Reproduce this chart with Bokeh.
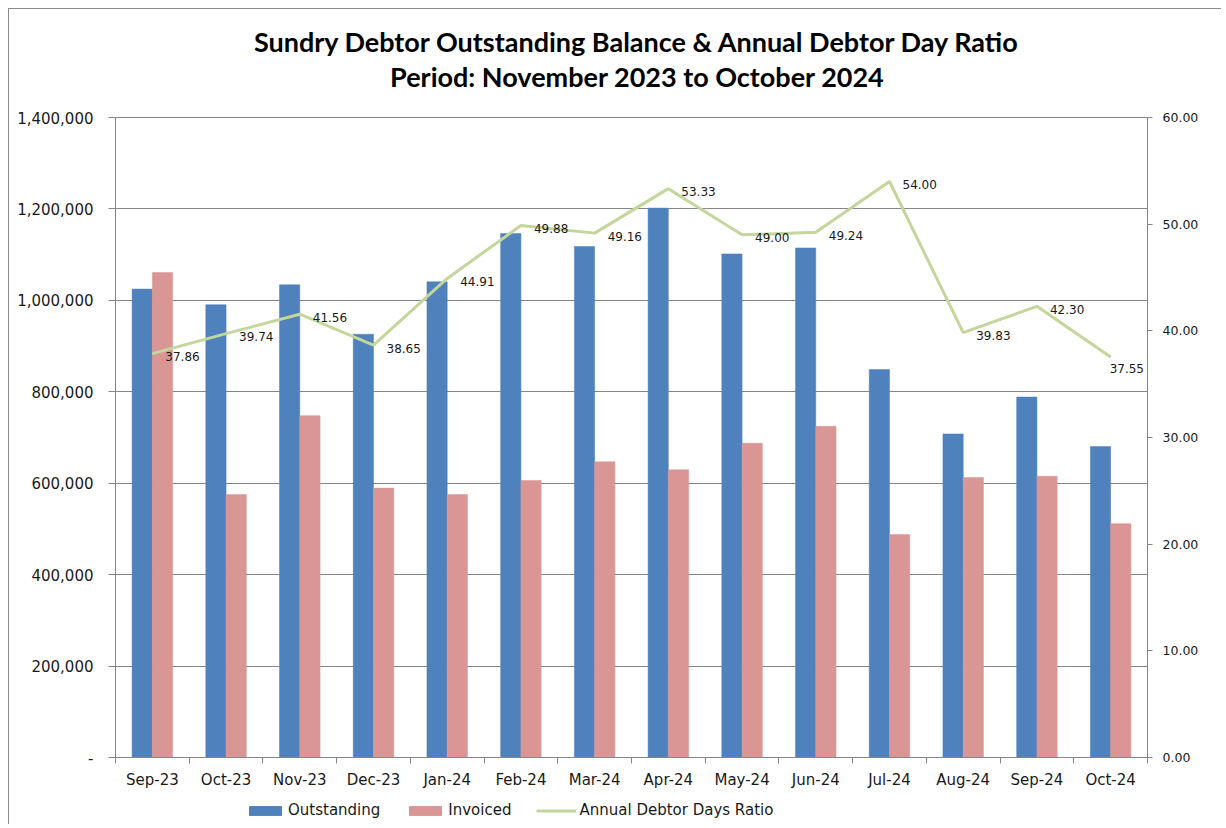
import numpy as np
from bokeh.plotting import figure
from bokeh.layouts import column
from bokeh.models import (ColumnDataSource, Range1d, LinearAxis, FixedTicker, CustomJSTickFormatter,
                          LabelSet, Label, Legend, LegendItem)
from bokeh.embed import file_html
from bokeh.resources import INLINE
from bokeh.core.properties import value

months = ["Sep-23", "Oct-23", "Nov-23", "Dec-23", "Jan-24", "Feb-24", "Mar-24",
          "Apr-24", "May-24", "Jun-24", "Jul-24", "Aug-24", "Sep-24", "Oct-24"]
outstanding = [1024600, 990400, 1034000, 925800, 1040500, 1146000, 1117700,
               1201800, 1101600, 1114600, 848700, 707800, 788500, 680200]
invoiced = [1061000, 575500, 747800, 589300, 575500, 606000, 646800,
            629400, 687400, 724500, 487600, 612600, 615500, 511600]
ratio = [37.86, 39.74, 41.56, 38.65, 44.91, 49.88, 49.16,
         53.33, 49.00, 49.24, 54.00, 39.83, 42.30, 37.55]

title_1 = "Sundry Debtor Outstanding Balance & Annual Debtor Day Ratio"
title_2 = "Period: November 2023 to October 2024"
left_ticks = [0, 200000, 400000, 600000, 800000, 1000000, 1200000, 1400000]
right_ticks = [0, 10, 20, 30, 40, 50, 60]

n = len(months)
xc = np.arange(n) + 0.5
bw = 0.275
# label offsets (last one kept inside the plot area)
lx = [13] * (n - 1) + [-1]
ly = [-3] * (n - 1) + [-12]
src = ColumnDataSource(dict(
    xo=xc - bw / 2, xi=xc + bw / 2, xc=xc,
    outstanding=outstanding, invoiced=invoiced, ratio=ratio,
    lab=[f"{r:.2f}" for r in ratio], lx=lx, ly=ly,
))

FONT = "DejaVu Sans"
GRAY = "#868686"
TXT = "#1a1a1a"
BLUE = "#4F81BD"
PINK = "#D99694"
GREEN = "#C3D69B"

W = 1212
H_TOP, H_MAIN, H_LEG = 100, 685, 30
ML, MR = 106, 74

# ---------- title strip ----------
pt = figure(width=W, height=H_TOP, output_backend="svg", toolbar_location=None,
            x_axis_type=None, y_axis_type=None,
            min_border_left=ML, min_border_right=MR, min_border_top=0, min_border_bottom=0,
            x_range=Range1d(0, 1), y_range=Range1d(0, 1))
pt.outline_line_color = None
pt.border_fill_color = "white"
for txt, yy in [(title_1, 68), (title_2, 33)]:
    pt.add_layout(Label(x=522, y=yy, x_units="screen", y_units="screen", text=txt,
                        text_font="Lato", text_font_style="bold", text_font_size="27px",
                        text_color="black", text_align="center", text_baseline="middle"))

# ---------- main chart ----------
p = figure(width=W, height=H_MAIN, output_backend="svg", toolbar_location=None,
           x_range=Range1d(0, n), y_range=Range1d(0, 1400000),
           min_border_left=ML, min_border_right=MR, min_border_top=8, min_border_bottom=37)
p.extra_y_ranges = {"right": Range1d(0, 60)}
p.outline_line_color = GRAY
p.outline_line_width = 1
p.background_fill_color = "white"
p.border_fill_color = "white"

p.vbar(x="xo", top="outstanding", width=bw, bottom=0, source=src,
       fill_color=BLUE, line_color=BLUE, line_width=0.5)
p.vbar(x="xi", top="invoiced", width=bw, bottom=0, source=src,
       fill_color=PINK, line_color=PINK, line_width=0.5)
p.line(x="xc", y="ratio", source=src, y_range_name="right",
       line_color=GREEN, line_width=3)

labels = LabelSet(x="xc", y="ratio", text="lab", source=src, y_range_name="right",
                  x_offset="lx", y_offset="ly", text_font=value(FONT), text_font_size="12px",
                  text_color=TXT, text_align="left", text_baseline="middle")
p.add_layout(labels)

xa = p.xaxis[0]
xa.ticker = FixedTicker(ticks=list(xc), minor_ticks=list(range(n + 1)))
xa.formatter = CustomJSTickFormatter(args=dict(cats=months),
                                     code="return cats[Math.floor(tick)];")
xa.major_tick_out = 0
xa.major_tick_in = 0
xa.minor_tick_out = 6
xa.minor_tick_in = 0
xa.minor_tick_line_color = GRAY
xa.axis_line_color = GRAY
xa.major_label_text_font = FONT
xa.major_label_text_font_size = "15px"
xa.major_label_text_color = TXT
xa.major_label_standoff = 7

ya = p.yaxis[0]
ya.ticker = FixedTicker(ticks=left_ticks, minor_ticks=[])
ya.formatter = CustomJSTickFormatter(code="""
if (tick == 0) { return '-'; }
return Math.round(tick).toString().replace(/\\B(?=(\\d{3})+(?!\\d))/g, ',');
""")
ya.major_tick_out = 7
ya.major_tick_in = 0
ya.minor_tick_out = 0
ya.minor_tick_in = 0
ya.major_tick_line_color = GRAY
ya.axis_line_color = GRAY
ya.major_label_text_font = FONT
ya.major_label_text_font_size = "15px"
ya.major_label_text_color = TXT
ya.major_label_standoff = 15

ra = LinearAxis(y_range_name="right", ticker=FixedTicker(ticks=right_ticks, minor_ticks=[]),
                formatter=CustomJSTickFormatter(code="return tick.toFixed(2);"))
ra.major_tick_out = 5
ra.major_tick_in = 0
ra.minor_tick_out = 0
ra.minor_tick_in = 0
ra.major_tick_line_color = GRAY
ra.axis_line_color = GRAY
ra.major_label_text_font = FONT
ra.major_label_text_font_size = "12.5px"
ra.major_label_text_color = TXT
ra.major_label_standoff = 10
p.add_layout(ra, "right")

p.xgrid.visible = False
p.ygrid[0].ticker = FixedTicker(ticks=left_ticks)
p.ygrid.grid_line_color = GRAY
p.ygrid.grid_line_width = 1

# ---------- legend strip (series renderers kept out of this strip's view) ----------
pl = figure(width=W, height=H_LEG, output_backend="svg", toolbar_location=None,
            x_axis_type=None, y_axis_type=None,
            min_border_left=ML, min_border_right=MR, min_border_top=0, min_border_bottom=0,
            x_range=Range1d(0, n), y_range=Range1d(2000000, 3000000))
pl.outline_line_color = None
pl.border_fill_color = "white"
pl.background_fill_color = "white"
lo = pl.vbar(x="xo", top="outstanding", width=bw, bottom=0, source=src,
             fill_color=BLUE, line_color=BLUE)
li = pl.vbar(x="xi", top="invoiced", width=bw, bottom=0, source=src,
             fill_color=PINK, line_color=PINK)
ll = pl.line(x="xc", y="ratio", source=src, line_color=GREEN, line_width=3)
legend = Legend(items=[LegendItem(label="Outstanding", renderers=[lo]),
                       LegendItem(label="Invoiced", renderers=[li]),
                       LegendItem(label="Annual Debtor Days Ratio", renderers=[ll])],
                orientation="horizontal", location=(130, 5),
                glyph_width=40, glyph_height=11, label_height=18, label_standoff=3,
                spacing=25, padding=0, margin=0,
                border_line_color=None, background_fill_alpha=0,
                label_text_font=FONT, label_text_font_size="15px", label_text_color=TXT)
pl.add_layout(legend, "center")

layout = column(pt, p, pl, spacing=0)
layout.styles = {"border-left": "1px solid #8c8c8c", "border-top": "1px solid #8c8c8c"}
layout.margin = (8, 0, 0, 8)

open("out.html", "w").write(file_html(layout, INLINE))
